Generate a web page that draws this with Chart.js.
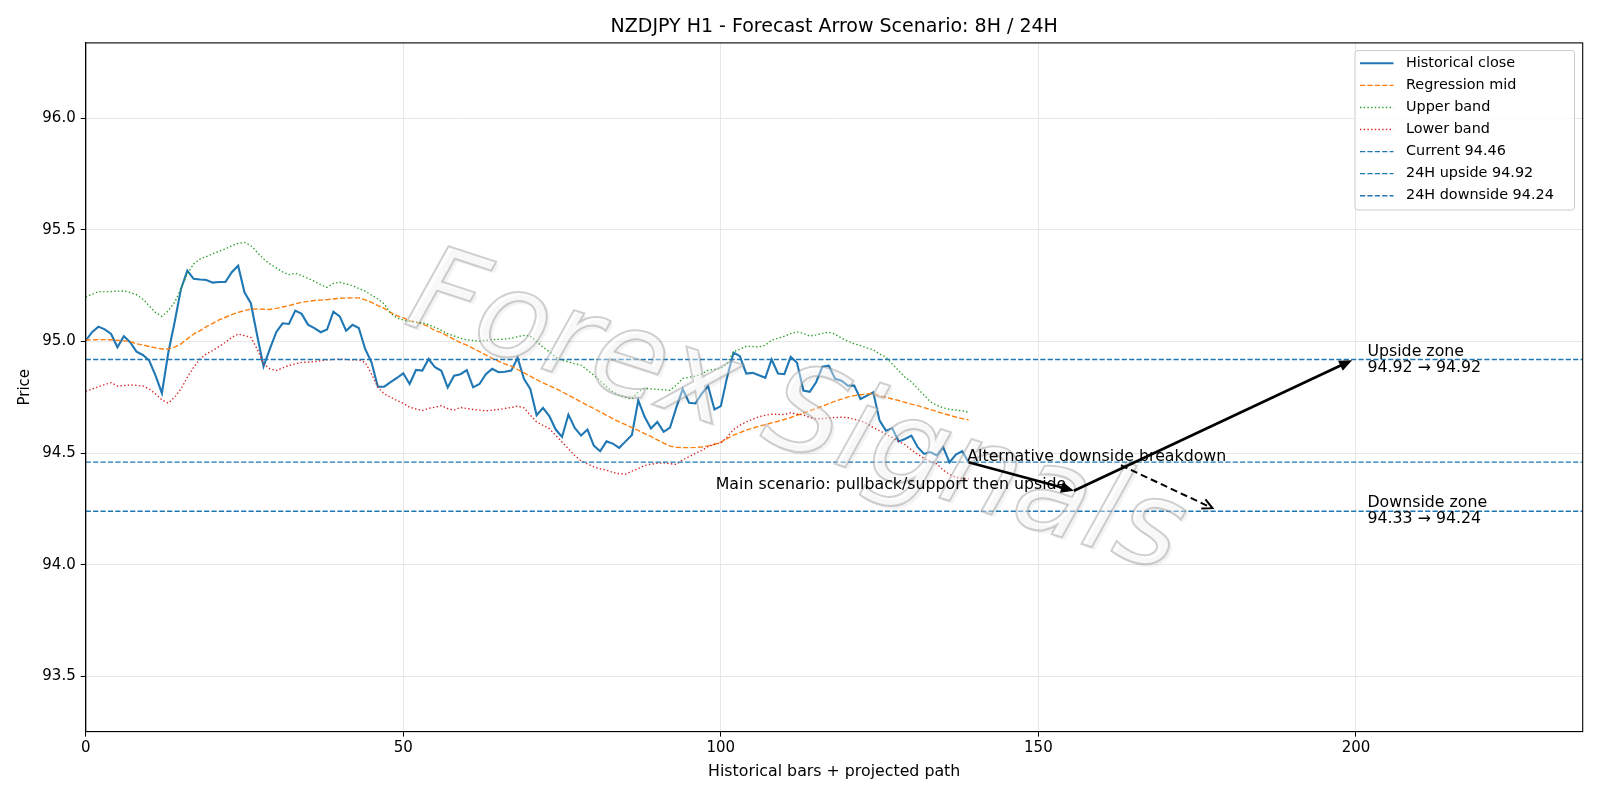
<!DOCTYPE html>
<html>
<head>
<meta charset="utf-8">
<script src="https://cdn.jsdelivr.net/npm/chart.js@4.4.0/dist/chart.umd.min.js"></script>
<style>
  html, body { margin: 0; padding: 0; background: #fff; }
  #wrap { width: 1600px; height: 800px; }
</style>
</head>
<body>
<div id="wrap"><canvas id="chart" width="1600" height="800"></canvas></div>
<script>
// ================== DATA ==================
const closeVals = [
  95.004,95.042,95.067,95.055,95.034,94.975,95.024,94.997,94.955,94.940,
  94.915,94.848,94.769,94.950,95.087,95.236,95.318,95.281,95.278,95.276,
  95.264,95.267,95.267,95.311,95.340,95.221,95.172,95.027,94.889,94.967,
  95.042,95.082,95.079,95.139,95.124,95.076,95.060,95.042,95.054,95.134,
  95.113,95.049,95.075,95.061,94.967,94.907,94.798,94.798,94.818,94.837,
  94.858,94.810,94.873,94.870,94.922,94.885,94.869,94.794,94.847,94.854,
  94.872,94.795,94.810,94.854,94.878,94.863,94.865,94.870,94.927,94.833,
  94.788,94.670,94.703,94.666,94.606,94.573,94.673,94.613,94.579,94.606,
  94.534,94.509,94.553,94.543,94.524,94.553,94.582,94.737,94.663,94.611,
  94.640,94.596,94.615,94.705,94.787,94.726,94.723,94.767,94.800,94.696,
  94.711,94.842,94.951,94.935,94.857,94.860,94.849,94.838,94.920,94.857,
  94.854,94.932,94.905,94.781,94.775,94.818,94.888,94.892,94.833,94.825,
  94.803,94.803,94.743,94.758,94.773,94.646,94.601,94.612,94.553,94.564,
  94.579,94.527,94.497,94.505,94.490,94.527,94.459,94.494,94.509,94.460
];
const midVals = [
  95.007,95.008,95.009,95.009,95.008,95.006,95.003,95.000,94.990,94.985,
  94.978,94.972,94.967,94.967,94.975,94.990,95.012,95.034,95.049,95.067,
  95.082,95.097,95.109,95.121,95.131,95.139,95.145,95.146,95.145,95.144,
  95.149,95.155,95.161,95.169,95.176,95.180,95.184,95.186,95.188,95.191,
  95.194,95.195,95.196,95.196,95.187,95.176,95.161,95.149,95.131,95.116,
  95.106,95.094,95.087,95.079,95.067,95.049,95.040,95.025,95.010,94.995,
  94.984,94.970,94.955,94.940,94.925,94.912,94.900,94.890,94.875,94.860,
  94.845,94.830,94.815,94.802,94.790,94.775,94.760,94.745,94.730,94.715,
  94.700,94.685,94.670,94.655,94.640,94.628,94.615,94.602,94.588,94.575,
  94.560,94.545,94.532,94.526,94.525,94.525,94.526,94.528,94.533,94.540,
  94.550,94.565,94.581,94.592,94.603,94.612,94.621,94.628,94.636,94.643,
  94.651,94.660,94.670,94.680,94.690,94.700,94.711,94.722,94.733,94.742,
  94.752,94.758,94.762,94.765,94.768,94.759,94.750,94.743,94.736,94.728,
  94.720,94.713,94.704,94.696,94.687,94.678,94.670,94.662,94.655,94.650
];
const upperVals = [
  95.200,95.212,95.224,95.224,95.224,95.226,95.227,95.220,95.210,95.190,
  95.160,95.130,95.113,95.138,95.176,95.236,95.303,95.348,95.370,95.381,
  95.393,95.405,95.415,95.430,95.440,95.444,95.430,95.400,95.370,95.348,
  95.330,95.312,95.300,95.306,95.296,95.283,95.270,95.255,95.243,95.261,
  95.266,95.258,95.251,95.238,95.226,95.208,95.191,95.169,95.127,95.106,
  95.097,95.090,95.087,95.084,95.076,95.064,95.050,95.035,95.025,95.015,
  95.008,95.005,95.002,95.005,95.009,95.010,95.011,95.015,95.022,95.028,
  95.025,95.000,94.975,94.955,94.930,94.915,94.910,94.900,94.895,94.872,
  94.850,94.825,94.797,94.775,94.760,94.750,94.743,94.775,94.790,94.788,
  94.786,94.784,94.782,94.805,94.835,94.840,94.845,94.855,94.872,94.875,
  94.879,94.902,94.954,94.966,94.979,94.978,94.976,94.984,95.006,95.015,
  95.024,95.036,95.044,95.036,95.025,95.030,95.037,95.042,95.033,95.015,
  95.002,94.990,94.982,94.972,94.963,94.945,94.930,94.900,94.870,94.840,
  94.820,94.790,94.760,94.730,94.715,94.703,94.697,94.693,94.690,94.683
];
const lowerVals = [
  94.777,94.787,94.798,94.808,94.816,94.801,94.803,94.806,94.804,94.801,
  94.788,94.766,94.739,94.724,94.751,94.788,94.840,94.885,94.922,94.945,
  94.960,94.978,94.997,95.019,95.034,95.027,95.019,94.967,94.900,94.878,
  94.870,94.882,94.893,94.900,94.907,94.908,94.910,94.914,94.918,94.920,
  94.921,94.920,94.918,94.918,94.907,94.855,94.795,94.766,94.751,94.736,
  94.724,94.706,94.698,94.691,94.701,94.706,94.713,94.700,94.693,94.705,
  94.700,94.696,94.693,94.690,94.693,94.696,94.700,94.705,94.711,94.703,
  94.670,94.640,94.625,94.610,94.580,94.550,94.520,94.490,94.465,94.452,
  94.439,94.430,94.424,94.414,94.408,94.406,94.420,94.431,94.445,94.451,
  94.455,94.457,94.453,94.450,94.470,94.484,94.500,94.513,94.530,94.540,
  94.546,94.573,94.606,94.625,94.640,94.652,94.663,94.670,94.675,94.674,
  94.673,94.681,94.675,94.672,94.660,94.654,94.655,94.658,94.660,94.661,
  94.659,94.652,94.645,94.633,94.615,94.601,94.585,94.570,94.553,94.538,
  94.515,94.495,94.477,94.462,94.452,94.425,94.405,94.392,94.387,94.385
];
const currentLevel = 94.46;
const upsideLevel = 94.92;
const downsideLevel = 94.24;

const xTicks = [0, 50, 100, 150, 200];
const yTicks = [93.5, 94.0, 94.5, 95.0, 95.5, 96.0];
const xRange = [0, 235.7];
const yRange = [93.253, 96.338];

// arrows: [x, y] in data units
const mainPath = [[139, 94.46], [155.6, 94.332], [199.4, 94.917]];
const altArrow = [[163, 94.446], [177.4, 94.254]];

const legendLabels = ['Historical close', 'Regression mid', 'Upper band', 'Lower band',
  'Current 94.46', '24H upside 94.92', '24H downside 94.24'];

// ================== HELPERS ==================
const FONT = '"DejaVu Sans", Verdana, sans-serif';
const toPts = arr => arr.map((v, i) => ({ x: i, y: v }));
const hline = v => [{ x: xRange[0], y: v }, { x: xRange[1], y: v }];

function arrow(ctx, x1, y1, x2, y2, opts){
  const ang = Math.atan2(y2 - y1, x2 - x1);
  const hl = opts.headLen, hw = opts.headW;
  ctx.save();
  ctx.strokeStyle = '#000';
  ctx.fillStyle = '#000';
  ctx.lineWidth = opts.lw;
  ctx.setLineDash(opts.dash || []);
  ctx.beginPath();
  ctx.moveTo(x1, y1);
  const ex = opts.open ? x2 : x2 - Math.cos(ang) * hl * 0.8;
  const ey = opts.open ? y2 : y2 - Math.sin(ang) * hl * 0.8;
  ctx.lineTo(ex, ey);
  ctx.stroke();
  ctx.setLineDash([]);
  const bx = x2 - Math.cos(ang) * hl, by = y2 - Math.sin(ang) * hl;
  const px = -Math.sin(ang) * hw, py = Math.cos(ang) * hw;
  ctx.beginPath();
  if(opts.open){
    ctx.moveTo(bx + px, by + py);
    ctx.lineTo(x2, y2);
    ctx.lineTo(bx - px, by - py);
    ctx.stroke();
  } else {
    ctx.moveTo(x2, y2);
    ctx.lineTo(bx + px, by + py);
    ctx.lineTo(bx - px, by - py);
    ctx.closePath();
    ctx.fill();
  }
  ctx.restore();
}

// ================== OVERLAY PLUGIN ==================
const overlay = {
  id: 'overlay',
  beforeDraw(chart){
    const ctx = chart.ctx;
    ctx.save();
    ctx.fillStyle = '#fff';
    ctx.fillRect(0, 0, chart.width, chart.height);
    ctx.restore();
  },
  afterDatasetsDraw(chart){
    const ctx = chart.ctx;
    const xs = chart.scales.x, ys = chart.scales.y;
    const a = chart.chartArea;

    // watermark
    ctx.save();
    ctx.beginPath();
    ctx.rect(a.left, a.top, a.right - a.left, a.bottom - a.top);
    ctx.clip();
    ctx.translate(795, 418);
    ctx.rotate(18 * Math.PI / 180);
    ctx.font = 'italic 120px ' + FONT;
    ctx.textAlign = 'center';
    ctx.textBaseline = 'middle';
    ctx.shadowColor = 'rgba(0,0,0,0.12)';
    ctx.shadowOffsetX = 3;
    ctx.shadowOffsetY = 3;
    ctx.shadowBlur = 1;
    ctx.fillStyle = 'rgba(255,255,255,0.4)';
    ctx.fillText('Forex Signals', 0, 0);
    ctx.shadowColor = 'transparent';
    ctx.strokeStyle = 'rgba(150,150,150,0.45)';
    ctx.lineWidth = 2;
    ctx.strokeText('Forex Signals', 0, 0);
    ctx.restore();

    // arrows
    const p = mainPath.map(q => [xs.getPixelForValue(q[0]), ys.getPixelForValue(q[1])]);
    arrow(ctx, p[0][0], p[0][1], p[1][0], p[1][1], { lw: 2.6, headLen: 13, headW: 5.5 });
    arrow(ctx, p[1][0], p[1][1], p[2][0], p[2][1], { lw: 2.6, headLen: 13, headW: 5.5 });
    const d = altArrow.map(q => [xs.getPixelForValue(q[0]), ys.getPixelForValue(q[1])]);
    arrow(ctx, d[0][0], d[0][1], d[1][0], d[1][1], { lw: 2, headLen: 10, headW: 5, dash: [7, 4], open: true });

    // annotation texts
    ctx.save();
    ctx.fillStyle = '#000';
    ctx.font = '15.8px ' + FONT;
    ctx.textBaseline = 'middle';
    ctx.textAlign = 'left';
    const zx = xs.getPixelForValue(201.8);
    const uy = ys.getPixelForValue(upsideLevel);
    ctx.fillText('Upside zone', zx, uy - 8);
    ctx.fillText('94.92 \u2192 94.92', zx, uy + 8.5);
    const dy = ys.getPixelForValue(downsideLevel);
    ctx.fillText('Downside zone', zx, dy - 8.5);
    ctx.fillText('94.33 \u2192 94.24', zx, dy + 8);
    ctx.fillText('Alternative downside breakdown', xs.getPixelForValue(138.8), ys.getPixelForValue(currentLevel) - 5);
    ctx.textAlign = 'right';
    ctx.fillText('Main scenario: pullback/support then upside', xs.getPixelForValue(154.4), ys.getPixelForValue(94.359));
    ctx.restore();
  },
  afterDraw(chart){
    const ctx = chart.ctx;
    const a = chart.chartArea;
    ctx.save();
    // frame
    ctx.strokeStyle = '#000';
    ctx.lineWidth = 1.1;
    ctx.strokeRect(a.left, a.top, a.right - a.left, a.bottom - a.top);

    // titles
    ctx.fillStyle = '#000';
    ctx.textAlign = 'center';
    ctx.textBaseline = 'middle';
    ctx.font = '19px ' + FONT;
    const cx = (a.left + a.right) / 2;
    ctx.fillText('NZDJPY H1 - Forecast Arrow Scenario: 8H / 24H', cx, 27);
    ctx.font = '15.8px ' + FONT;
    ctx.fillText('Historical bars + projected path', cx, 771.5);
    ctx.save();
    ctx.translate(25.5, (a.top + a.bottom) / 2);
    ctx.rotate(-Math.PI / 2);
    ctx.font = '15px ' + FONT;
    ctx.fillText('Price', 0, 0);
    ctx.restore();

    // legend
    const lx = 1355, ly = 50.5, lw = 219.5, lh = 159.5;
    ctx.fillStyle = 'rgba(255,255,255,0.8)';
    ctx.strokeStyle = '#cccccc';
    ctx.lineWidth = 1;
    ctx.beginPath();
    ctx.roundRect(lx, ly, lw, lh, 3);
    ctx.fill();
    ctx.stroke();
    const dsets = chart.data.datasets;
    ctx.textAlign = 'left';
    ctx.font = '14.4px ' + FONT;
    for(let i = 0; i < legendLabels.length; i++){
      const ry = 63.3 + i * 22.07;
      const ds = dsets[i];
      ctx.save();
      ctx.strokeStyle = ds.borderColor;
      ctx.lineWidth = ds.borderWidth;
      ctx.setLineDash(ds.borderDash || []);
      ctx.beginPath();
      ctx.moveTo(1360, ry);
      ctx.lineTo(1393.5, ry);
      ctx.stroke();
      ctx.restore();
      ctx.fillStyle = '#000';
      ctx.fillText(legendLabels[i], 1406, ry);
    }
    ctx.restore();
  }
};

// ================== CHART ==================
const thin = 1.4;
const ctx = document.getElementById('chart').getContext('2d');
const chart = new Chart(ctx, {
  type: 'line',
  data: {
    datasets: [
      { label: legendLabels[0], data: toPts(closeVals), borderColor: '#1f77b4', borderWidth: 2.1, order: 7 },
      { label: legendLabels[1], data: toPts(midVals), borderColor: '#ff7f0e', borderWidth: thin, borderDash: [5.2, 2.2], order: 6 },
      { label: legendLabels[2], data: toPts(upperVals), borderColor: '#2ca02c', borderWidth: thin, borderDash: [1.4, 2.3], order: 5 },
      { label: legendLabels[3], data: toPts(lowerVals), borderColor: '#d62728', borderWidth: thin, borderDash: [1.4, 2.3], order: 4 },
      { label: legendLabels[4], data: hline(currentLevel), borderColor: '#1f77b4', borderWidth: thin, borderDash: [5.2, 2.2], order: 3 },
      { label: legendLabels[5], data: hline(upsideLevel), borderColor: '#1f77b4', borderWidth: thin, borderDash: [5.2, 2.2], order: 2 },
      { label: legendLabels[6], data: hline(downsideLevel), borderColor: '#1f77b4', borderWidth: thin, borderDash: [5.2, 2.2], order: 1 }
    ]
  },
  options: {
    responsive: false,
    animation: false,
    parsing: false,
    elements: { point: { radius: 0 }, line: { tension: 0, fill: false, borderCapStyle: 'butt' } },
    layout: { padding: { left: 0, right: 17.3, top: 42.9, bottom: 0 } },
    plugins: { legend: { display: false }, title: { display: false }, tooltip: { enabled: false } },
    scales: {
      x: {
        type: 'linear', min: xRange[0], max: xRange[1],
        afterBuildTicks: s => { s.ticks = xTicks.map(v => ({ value: v })); },
        afterFit: s => { s.height = 68.4; },
        grid: { color: '#e7e7e7', lineWidth: 1, tickColor: '#000', tickLength: 5, drawTicks: true },
        border: { display: true, color: '#000', width: 1.1 },
        ticks: { color: '#000', font: { family: FONT, size: 15 }, padding: 3, maxRotation: 0,
          callback: v => String(v) }
      },
      y: {
        type: 'linear', min: yRange[0], max: yRange[1],
        afterBuildTicks: s => { s.ticks = yTicks.map(v => ({ value: v })); },
        afterFit: s => { s.width = 85.7; },
        grid: { color: '#e7e7e7', lineWidth: 1, tickColor: '#000', tickLength: 5, drawTicks: true },
        border: { display: true, color: '#000', width: 1.1 },
        ticks: { color: '#000', font: { family: FONT, size: 15 }, padding: 5,
          callback: v => Number(v).toFixed(1) }
      }
    }
  },
  plugins: [overlay]
});
</script>
</body>
</html>
